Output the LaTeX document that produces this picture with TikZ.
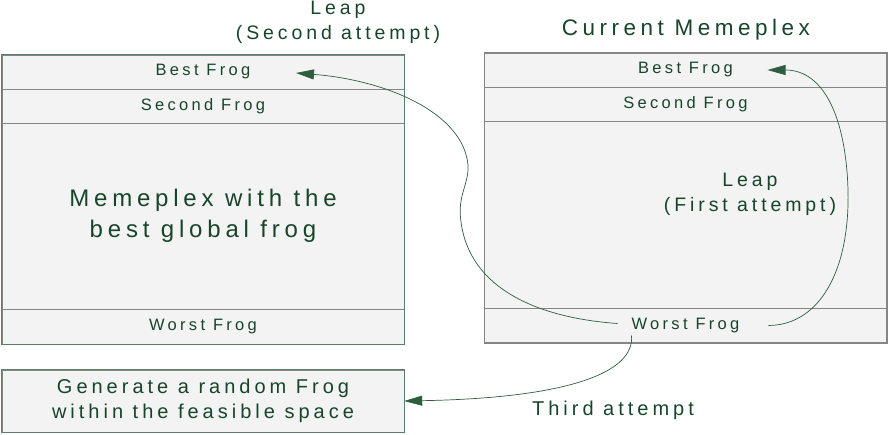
\documentclass[tikz,border=0pt]{standalone}
\usepackage{fontspec}
\setmainfont{Liberation Sans}[LetterSpace=20]
\usetikzlibrary{arrows.meta,calc}

\definecolor{frogtext}{HTML}{17452A}
\definecolor{leapline}{HTML}{2E5E3E}
\definecolor{rowfill}{HTML}{F3F3F3}
\definecolor{rowline}{HTML}{858585}
\definecolor{boxedge}{HTML}{5E7E6C}

\begin{document}
\begin{tikzpicture}[
    x=1pt, y=-1pt,
    row/.style={draw=rowline, fill=rowfill, inner sep=0pt, minimum width=402pt,
        text=frogtext, align=center, font=\fontsize{16.5}{19}\selectfont},
    bigtxt/.style={font=\fontsize{24}{31}\selectfont},
    lbl/.style={text=frogtext, align=center, font=\fontsize{19.5}{25}\selectfont},
    leap/.style={draw=leapline, line width=0.7pt, -{Triangle[length=18pt,width=10pt]}}
]
    \useasboundingbox (0,0) rectangle (889,434);

    % memeplex with the best global frog
    \node[row, minimum height=34pt] (lbest) at (203,72) {Best Frog};
    \node[row, minimum height=34pt] (lsecond) at (203,106) {Second Frog};
    \node[row, minimum height=186pt, bigtxt] (lmid) at (203,216) {Memeplex with the\\best global frog};
    \node[row, minimum height=35pt] (lworst) at (203,326.5) {Worst Frog};
    \draw[boxedge, line width=1.2pt] (lbest.north west) rectangle (lworst.south east);

    % current memeplex
    \node[row, minimum height=34pt] (rbest) at (685.5,70) {Best Frog};
    \node[row, minimum height=34pt] (rsecond) at (685.5,104) {Second Frog};
    \node[row, minimum height=187pt] (rmid) at (685.5,214.5) {};
    \node[row, minimum height=35pt] (rworst) at (685.5,325.5) {Worst Frog};
    \draw[rowline, line width=1.6pt] (rbest.north west) rectangle (rworst.south east);

    % random frog
    \node[row, minimum height=62pt, font=\fontsize{20}{25}\selectfont] (gen) at (203,401)
        {Generate a random Frog\\within the feasible space};
    \draw[boxedge, line width=1.2pt] (gen.north west) rectangle (gen.south east);

    % labels
    \node[lbl, font=\fontsize{22.5}{25}\selectfont] (cur) at (686,30) {Current Memeplex};
    \node[lbl] (leap2) at (338,22) {Leap\\(Second attempt)};
    \node[lbl] (leap1) at (750,194) {Leap\\(First attempt)};
    \node[lbl, font=\fontsize{20}{25}\selectfont] (third) at (613,410) {Third attempt};

    % leaps
    \draw[leap] ($(rworst.center)+(-68,-2)$) .. controls (540,318) and (470,290) .. (461,222)
        .. controls (457,195) and (469,185) .. (468,165)
        .. controls (463,112) and (385,80) .. ($(lbest.center)+(93,1)$);
    \draw[leap] ($(rworst.center)+(83,0)$) .. controls (820,325) and (850,270) .. (848,190)
        .. controls (846,120) and (825,70) .. ($(rbest.center)+(82,0)$);
    \draw[leap] ($(rworst.center)+(-54,10)$) .. controls (635,372) and (570,398) .. (gen.east);
\end{tikzpicture}
\end{document}
